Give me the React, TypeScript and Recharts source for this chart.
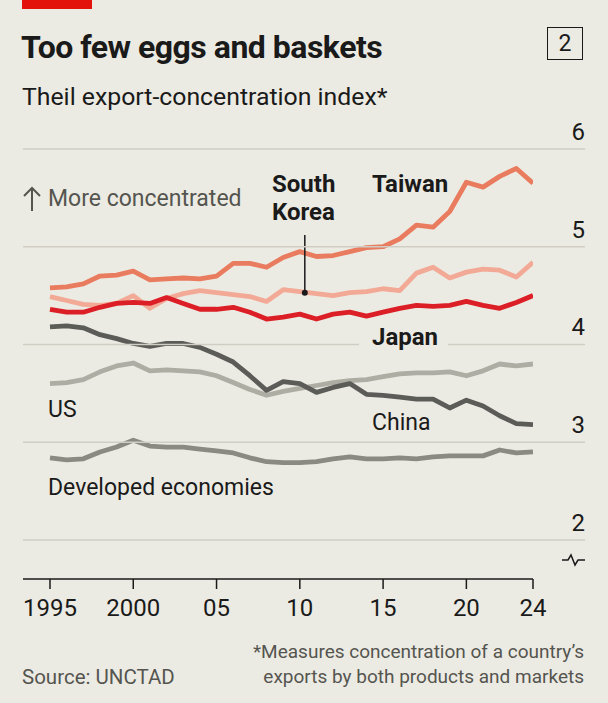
import { LineChart, Line, XAxis, YAxis, ReferenceLine, ReferenceDot } from 'recharts'

/* ── Data ─────────────────────────────────────────────────── */

const years = [
  1995, 1996, 1997, 1998, 1999, 2000, 2001, 2002, 2003, 2004,
  2005, 2006, 2007, 2008, 2009, 2010, 2011, 2012, 2013, 2014,
  2015, 2016, 2017, 2018, 2019, 2020, 2021, 2022, 2023, 2024,
]

const taiwan = [
  4.58, 4.59, 4.62, 4.7, 4.71, 4.75, 4.66, 4.67, 4.68, 4.67,
  4.7, 4.83, 4.83, 4.79, 4.89, 4.95, 4.9, 4.91, 4.95, 4.99,
  5.0, 5.08, 5.22, 5.2, 5.36, 5.66, 5.61, 5.72, 5.8, 5.65,
]

const southKorea = [
  4.49, 4.45, 4.41, 4.4, 4.42, 4.5, 4.37, 4.47, 4.52, 4.55,
  4.53, 4.51, 4.49, 4.44, 4.56, 4.54, 4.52, 4.5, 4.53, 4.54,
  4.57, 4.55, 4.73, 4.79, 4.68, 4.74, 4.77, 4.76, 4.69, 4.84,
]

const japan = [
  4.36, 4.33, 4.33, 4.38, 4.42, 4.43, 4.42, 4.48, 4.42, 4.36,
  4.36, 4.38, 4.33, 4.26, 4.28, 4.31, 4.26, 4.31, 4.33, 4.29,
  4.33, 4.37, 4.4, 4.39, 4.4, 4.44, 4.4, 4.37, 4.43, 4.5,
]

const china = [
  4.18, 4.19, 4.17, 4.1, 4.06, 4.01, 3.98, 4.01, 4.01, 3.97,
  3.9, 3.82, 3.68, 3.53, 3.62, 3.6, 3.51, 3.56, 3.6, 3.49,
  3.48, 3.46, 3.44, 3.44, 3.35, 3.43, 3.37, 3.27, 3.19, 3.18,
]

const us = [
  3.6, 3.61, 3.64, 3.72, 3.78, 3.81, 3.73, 3.74, 3.73, 3.72,
  3.68, 3.61, 3.54, 3.48, 3.52, 3.55, 3.58, 3.61, 3.63, 3.64,
  3.67, 3.7, 3.71, 3.71, 3.72, 3.68, 3.73, 3.8, 3.78, 3.8,
]

const developed = [
  2.84, 2.82, 2.83, 2.9, 2.95, 3.02, 2.96, 2.95, 2.95, 2.93,
  2.91, 2.89, 2.84, 2.8, 2.79, 2.79, 2.8, 2.83, 2.85, 2.83,
  2.83, 2.84, 2.83, 2.85, 2.86, 2.86, 2.86, 2.92, 2.89, 2.9,
]

const yearTicks = [1995, 2000, 2005, 2010, 2015, 2020, 2024]
const valueTicks = [2, 3, 4, 5, 6]

const rows = years.map((year, i) => ({
  year,
  taiwan: taiwan[i],
  southKorea: southKorea[i],
  japan: japan[i],
  china: china[i],
  us: us[i],
  developed: developed[i],
}))

/* ── Styles ───────────────────────────────────────────────── */

const BG = '#ecebe3'
const INK = '#1a1a1a'
const MUTED = '#555550'
const GRID = '#cfcdc4'
const FONT = 'Roboto, "Noto Sans", sans-serif'

const series = [
  { key: 'developed', color: '#8a8a82' },
  { key: 'us', color: '#aeada4' },
  { key: 'china', color: '#5b5b58' },
  { key: 'southKorea', color: '#f2aa96' },
  { key: 'taiwan', color: '#e97b5e' },
  { key: 'japan', color: '#dc1f26' },
]

// gridline spans the full width; the "4" line leaves a gap for the Japan label
function ValueTick({ y, payload }: any) {
  const v = payload.value
  return (
    <g>
      {v === 4 ? (
        <>
          <line x1={23} x2={359} y1={y} y2={y} stroke={GRID} strokeWidth={1.5} />
          <line x1={448} x2={585} y1={y} y2={y} stroke={GRID} strokeWidth={1.5} />
        </>
      ) : (
        <line x1={23} x2={585} y1={y} y2={y} stroke={GRID} strokeWidth={1.5} />
      )}
      <text x={585} y={y - 9} textAnchor="end" fontSize={24} fill={INK} fontFamily={FONT}>
        {v}
      </text>
    </g>
  )
}

function YearTick({ x, y, payload }: any) {
  const v = payload.value
  const label = v === 1995 || v === 2000 ? String(v) : String(v).slice(2)
  return (
    <text x={x} y={y + 17} textAnchor="middle" fontSize={24} fill={INK} fontFamily={FONT}>
      {label}
    </text>
  )
}

function Label({ x, y, children, bold, color = INK, size = 23, align = 'left' }: any) {
  return (
    <div
      style={{
        position: 'absolute',
        top: y - 15,
        lineHeight: '30px',
        fontSize: size,
        fontWeight: bold ? 700 : 400,
        color,
        whiteSpace: 'nowrap',
        ...(align === 'right' ? { right: 608 - x, textAlign: 'right' } : { left: x }),
      }}
    >
      {children}
    </div>
  )
}

export default function App() {
  return (
    <div
      style={{
        position: 'relative',
        width: 608,
        height: 703,
        background: BG,
        fontFamily: FONT,
        overflow: 'hidden',
      }}
    >
      <style>{'body{margin:0}'}</style>

      <div style={{ position: 'absolute', left: 22, top: 0, width: 70, height: 9, background: '#e3120b' }} />
      <div
        style={{
          position: 'absolute',
          left: 21,
          top: 27,
          fontSize: 32,
          fontWeight: 700,
          letterSpacing: -0.5,
          color: INK,
          lineHeight: '40px',
        }}
      >
        Too few eggs and baskets
      </div>
      <div
        style={{
          position: 'absolute',
          left: 547,
          top: 27,
          width: 34,
          height: 31,
          border: `1.5px solid ${INK}`,
          fontSize: 23,
          lineHeight: '31px',
          textAlign: 'center',
          color: INK,
        }}
      >
        2
      </div>
      <Label x={22} y={97} size={24.8}>Theil export-concentration index*</Label>

      <div style={{ position: 'absolute', left: 0, top: 0 }}>
        <LineChart
          width={608}
          height={703}
          data={rows}
          margin={{ top: 149, right: 74, left: 23, bottom: 84 }}
        >
          <YAxis
            orientation="right"
            width={1}
            domain={[1.6, 6]}
            ticks={valueTicks}
            interval={0}
            axisLine={false}
            tickLine={false}
            tick={(props: any) => <ValueTick {...props} />}
          />
          <XAxis
            dataKey="year"
            type="number"
            domain={[1993.38, 2024]}
            ticks={yearTicks}
            interval={0}
            height={40}
            allowDataOverflow
            axisLine={{ stroke: INK, strokeWidth: 1.5 }}
            tickLine={{ stroke: INK, strokeWidth: 1.5 }}
            tickSize={10}
            tickMargin={10}
            tick={(props: any) => <YearTick {...props} />}
          />
          {series.map((s) => (
            <Line
              key={s.key}
              dataKey={s.key}
              type="linear"
              stroke={s.color}
              strokeWidth={4.8}
              strokeLinejoin="round"
              dot={false}
              activeDot={false}
              isAnimationActive={false}
            />
          ))}
          <ReferenceLine
            segment={[
              { x: 2010.3, y: 5.12 },
              { x: 2010.3, y: 4.53 },
            ]}
            stroke={INK}
            strokeWidth={1.5}
          />
          <ReferenceDot x={2010.3} y={4.53} r={3} fill={INK} stroke="none" />
        </LineChart>
      </div>

      <svg style={{ position: 'absolute', left: 22, top: 186 }} width={20} height={26}>
        <path d="M10 2 V25 M2 10 L10 2 L18 10" fill="none" stroke={MUTED} strokeWidth={2} />
      </svg>
      <Label x={48} y={199} color={MUTED}>More concentrated</Label>
      <Label x={272} y={184} bold size={24}>South</Label>
      <Label x={272} y={212} bold size={24}>Korea</Label>
      <Label x={372} y={184} bold size={24}>Taiwan</Label>
      <Label x={372} y={337} bold size={24}>Japan</Label>
      <Label x={48} y={410}>US</Label>
      <Label x={372} y={423}>China</Label>
      <Label x={48} y={488}>Developed economies</Label>

      <svg style={{ position: 'absolute', left: 560, top: 550 }} width={26} height={20}>
        <path d="M2 10 H8 L11 5 L15 15 L18 10 H25" fill="none" stroke={INK} strokeWidth={1.5} />
      </svg>

      <Label x={584} y={652} color={MUTED} size={19} align="right">
        *Measures concentration of a country’s
      </Label>
      <Label x={584} y={677} color={MUTED} size={19} align="right">
        exports by both products and markets
      </Label>
      <Label x={22} y={677} color={MUTED} size={20.5}>Source: UNCTAD</Label>
    </div>
  )
}
